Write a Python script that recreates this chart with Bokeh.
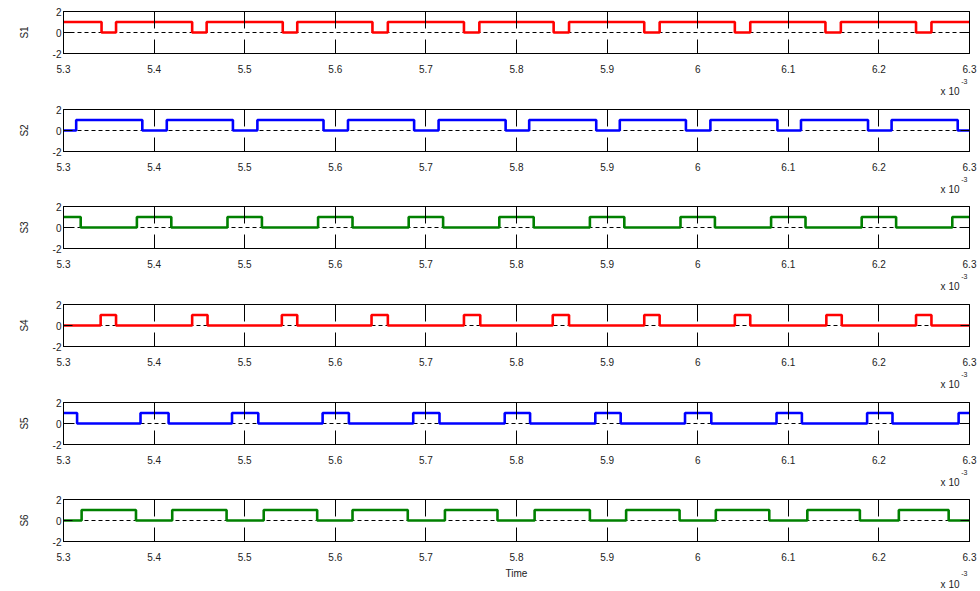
from bokeh.plotting import figure
from bokeh.models import Range1d, FixedTicker, LinearAxis, Span, Title, ColumnDataSource
from bokeh.layouts import column
from bokeh.embed import file_html
from bokeh.resources import INLINE

# ---- data ----
x_ticks = [5.3, 5.4, 5.5, 5.6, 5.7, 5.8, 5.9, 6.0, 6.1, 6.2, 6.3]
x_tick_labels = ["5.3", "5.4", "5.5", "5.6", "5.7", "5.8", "5.9", "6", "6.1", "6.2", "6.3"]
y_ticks = [-2, 0, 2]
y_tick_labels = ["-2", "0", "2"]

signal_names = ["S1", "S2", "S3", "S4", "S5", "S6"]
signal_colors = ["#ff0000", "#0000ff", "#008000", "#ff0000", "#0000ff", "#008000"]

s1_t = [5.300, 5.342, 5.358, 5.442, 5.458, 5.542, 5.558, 5.641, 5.658, 5.742, 5.759,
        5.841, 5.858, 5.941, 5.958, 6.041, 6.058, 6.141, 6.158, 6.241, 6.258, 6.300]
s1_v = [1, 0, 1, 0, 1, 0, 1, 0, 1, 0, 1, 0, 1, 0, 1, 0, 1, 0, 1, 0, 1, 1]

s2_t = [5.300, 5.314, 5.387, 5.414, 5.487, 5.514, 5.587, 5.614, 5.687, 5.714, 5.788,
        5.814, 5.888, 5.914, 5.987, 6.014, 6.088, 6.114, 6.188, 6.214, 6.287, 6.300]
s2_v = [0, 1, 0, 1, 0, 1, 0, 1, 0, 1, 0, 1, 0, 1, 0, 1, 0, 1, 0, 1, 0, 0]

s3_t = [5.300, 5.319, 5.381, 5.419, 5.481, 5.519, 5.581, 5.619, 5.681, 5.719, 5.781,
        5.819, 5.881, 5.919, 5.981, 6.019, 6.081, 6.119, 6.181, 6.219, 6.281, 6.300]
s3_v = [1, 0, 1, 0, 1, 0, 1, 0, 1, 0, 1, 0, 1, 0, 1, 0, 1, 0, 1, 0, 1, 1]

s4_t = [5.300, 5.341, 5.358, 5.442, 5.459, 5.541, 5.558, 5.640, 5.658, 5.742, 5.760,
        5.840, 5.858, 5.941, 5.958, 6.041, 6.058, 6.142, 6.159, 6.241, 6.258, 6.300]
s4_v = [0, 1, 0, 1, 0, 1, 0, 1, 0, 1, 0, 1, 0, 1, 0, 1, 0, 1, 0, 1, 0, 0]

s5_t = [5.300, 5.315, 5.385, 5.416, 5.486, 5.515, 5.586, 5.615, 5.686, 5.715, 5.787,
        5.815, 5.887, 5.915, 5.986, 6.015, 6.087, 6.115, 6.187, 6.215, 6.288, 6.300]
s5_v = [1, 0, 1, 0, 1, 0, 1, 0, 1, 0, 1, 0, 1, 0, 1, 0, 1, 0, 1, 0, 1, 1]

s6_t = [5.300, 5.320, 5.380, 5.420, 5.480, 5.521, 5.580, 5.619, 5.680, 5.721, 5.779,
        5.820, 5.881, 5.921, 5.980, 6.020, 6.079, 6.121, 6.179, 6.222, 6.277, 6.300]
s6_v = [0, 1, 0, 1, 0, 1, 0, 1, 0, 1, 0, 1, 0, 1, 0, 1, 0, 1, 0, 1, 0, 0]

signals = [(s1_t, s1_v), (s2_t, s2_v), (s3_t, s3_v), (s4_t, s4_v), (s5_t, s5_v), (s6_t, s6_v)]
multiplier_base = "x 10"
multiplier_exp = "-3"

x_overrides = {t: lab for t, lab in zip(x_ticks, x_tick_labels)}
y_overrides = {t: lab for t, lab in zip(y_ticks, y_tick_labels)}

FONT = "Liberation Sans"
TXT = "#222222"
fig_heights = [98, 97, 98, 98, 97, 102]

figs = []
for i, (name, color, (ts, vs)) in enumerate(zip(signal_names, signal_colors, signals)):
    last = i == len(signal_names) - 1
    h = fig_heights[i]
    p = figure(width=980, height=h, output_backend="svg", toolbar_location=None,
               x_range=Range1d(x_ticks[0], x_ticks[-1]), y_range=Range1d(y_ticks[0], y_ticks[-1]),
               min_border_left=63, min_border_right=11, min_border_top=11,
               min_border_bottom=h - 53, x_axis_location=None, y_axis_location=None,
               background_fill_color="white", border_fill_color="white")
    p.xgrid.visible = False
    p.ygrid.visible = False
    p.outline_line_color = "black"
    p.outline_line_width = 1

    # bottom axis
    xb = LinearAxis(ticker=FixedTicker(ticks=x_ticks), major_label_overrides=x_overrides)
    xb.major_tick_in = 14
    xb.major_tick_out = 0
    xb.minor_tick_line_color = None
    xb.major_label_standoff = 11
    xb.major_label_text_font = FONT
    xb.major_label_text_font_size = "10px"
    xb.major_label_text_color = TXT
    xb.axis_line_color = "black"
    xb.major_tick_line_color = "black"
    if last:
        xb.axis_label = "Time"
        xb.axis_label_text_font = FONT
        xb.axis_label_text_font_size = "10px"
        xb.axis_label_text_font_style = "normal"
        xb.axis_label_text_color = TXT
        xb.axis_label_standoff = 4
    p.add_layout(xb, "below")

    # top axis (ticks only)
    xt = LinearAxis(ticker=FixedTicker(ticks=x_ticks))
    xt.major_tick_in = 17
    xt.major_tick_out = 0
    xt.minor_tick_line_color = None
    xt.major_label_text_font_size = "0px"
    xt.major_label_standoff = 0
    xt.axis_line_color = None
    xt.major_tick_line_color = "black"
    p.add_layout(xt, "above")

    # left axis
    yl = LinearAxis(ticker=FixedTicker(ticks=y_ticks), major_label_overrides=y_overrides)
    yl.major_tick_in = 9
    yl.major_tick_out = 0
    yl.minor_tick_line_color = None
    yl.major_label_standoff = 2
    yl.major_label_text_font = FONT
    yl.major_label_text_font_size = "10px"
    yl.major_label_text_color = TXT
    yl.axis_label = name
    yl.axis_label_text_font = FONT
    yl.axis_label_text_font_size = "10px"
    yl.axis_label_text_font_style = "normal"
    yl.axis_label_text_color = TXT
    yl.axis_label_standoff = 20
    yl.axis_line_color = "black"
    yl.major_tick_line_color = "black"
    p.add_layout(yl, "left")

    # right axis (ticks only)
    yr = LinearAxis(ticker=FixedTicker(ticks=y_ticks))
    yr.major_tick_in = 9
    yr.major_tick_out = 0
    yr.minor_tick_line_color = None
    yr.major_label_text_font_size = "0px"
    yr.major_label_standoff = 0
    yr.axis_line_color = None
    yr.major_tick_line_color = "black"
    p.add_layout(yr, "right")

    zero = Span(location=0, dimension="width", line_color="black", line_width=1,
                line_dash="4 3", level="underlay")
    p.add_layout(zero)

    src = ColumnDataSource(dict(t=ts, v=vs))
    p.step("t", "v", source=src, mode="after", line_color=color, line_width=2.6)

    # "x 10^-3" multiplier under the right end of the axis
    t1 = Title(text=multiplier_exp, align="right", offset=2, text_font=FONT, text_font_size="7px",
               text_font_style="normal", text_color=TXT, vertical_align="top")
    t2 = Title(text=multiplier_base, align="right", offset=10, text_font=FONT, text_font_size="10px",
               text_font_style="normal", text_color=TXT, vertical_align="top")
    s1, s2 = (7, -8) if not last else (-22, -6)
    try:
        t1.standoff = s1
        t2.standoff = s2
    except Exception:
        pass
    p.add_layout(t1, "below")
    p.add_layout(t2, "below")
    figs.append(p)

layout = column(*figs, spacing=0)
open("out.html", "w").write(file_html(layout, INLINE))
